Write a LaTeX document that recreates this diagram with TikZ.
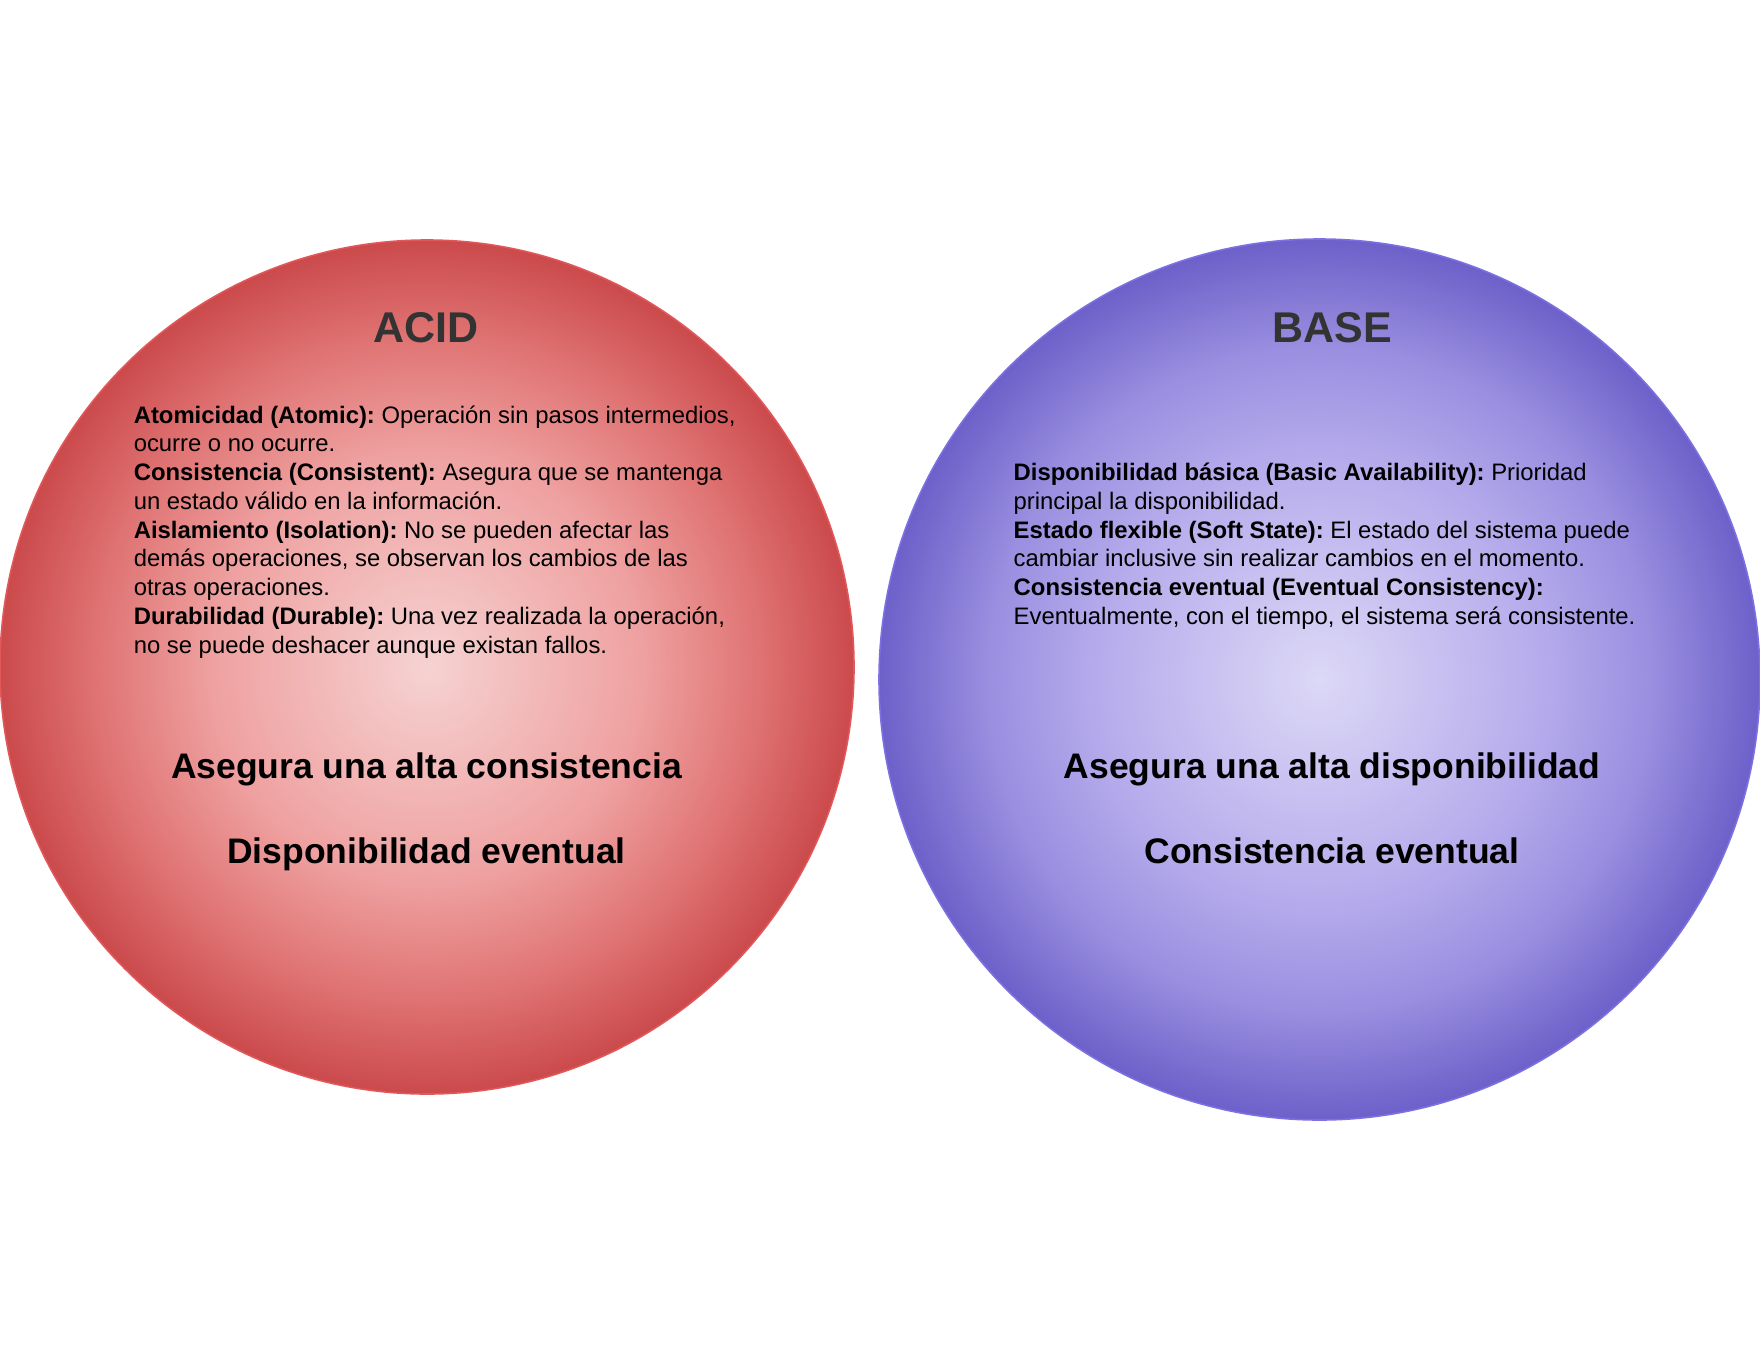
\documentclass[tikz,border=0pt]{standalone}
\usepackage{fontspec}
\setmainfont{Liberation Sans}
\frenchspacing
\definecolor{acidin}{HTML}{F6D2D2}
\definecolor{acidmid}{HTML}{EFA1A1}
\definecolor{acidrim}{HTML}{E07474}
\definecolor{acidout}{HTML}{CB4A4C}
\definecolor{acidline}{HTML}{E2575A}
\definecolor{basein}{HTML}{DCD8F6}
\definecolor{basemid}{HTML}{B6ACEC}
\definecolor{baserim}{HTML}{9A8FE0}
\definecolor{baseout}{HTML}{6D60C9}
\definecolor{baseline}{HTML}{7D70E2}
\definecolor{titlegray}{HTML}{333333}
% radial fills: light centre, brighter middle ring, dark rim
\pgfdeclareradialshading{acidshade}{\pgfpoint{0bp}{0bp}}{%
  color(0bp)=(acidin); color(12.5bp)=(acidmid); color(19.25bp)=(acidrim);
  color(25bp)=(acidout); color(50bp)=(acidout)}
\pgfdeclareradialshading{baseshade}{\pgfpoint{0bp}{0bp}}{%
  color(0bp)=(basein); color(12.5bp)=(basemid); color(18.75bp)=(baserim);
  color(25bp)=(baseout); color(50bp)=(baseout)}
\begin{document}
\begin{tikzpicture}[x=1pt,y=-1pt,
  ball/.style={circle, inner sep=0pt, line width=1.6pt},
  acidball/.style={ball, shading=acidshade, draw=acidline},
  baseball/.style={ball, shading=baseshade, draw=baseline},
  heading/.style={inner sep=0pt, anchor=base, text=titlegray,
    font=\fontsize{43}{50}\selectfont\bfseries},
  % multi-line blocks are placed by the baseline of their last line
  points/.style={inner sep=0pt, anchor=base west, align=left,
    font=\fontsize{23.85}{28.75}\selectfont},
  claim/.style={inner sep=0pt, anchor=base,
    font=\fontsize{35.5}{42}\selectfont\bfseries}]
\useasboundingbox (0,0) rectangle (1760,1360);

% the two property spheres
\node[acidball, minimum size=854pt] (acid) at (427,667) {};
\node[baseball, minimum size=881pt] (base) at (1319.5,679.5) {};

% titles
\node[heading] (acidtitle) at (426,342.5) {ACID};
\node[heading] (basetitle) at (1332,342.5) {BASE};

% ACID properties
\node[points] (acidlist) at (133.6,653) {%
\textbf{Atomicidad (Atomic):} Operación sin pasos intermedios,\\
ocurre o no ocurre.\\
\textbf{Consistencia (Consistent):} Asegura que se mantenga\\
un estado válido en la información.\\
\textbf{Aislamiento (Isolation):} No se pueden afectar las\\
demás operaciones, se observan los cambios de las\\
otras operaciones.\\
\textbf{Durabilidad (Durable):} Una vez realizada la operación,\\
no se puede deshacer aunque existan fallos.};

% BASE properties
\node[points] (baselist) at (1013.5,624.25) {%
\textbf{Disponibilidad básica (Basic Availability):} Prioridad\\
principal la disponibilidad.\\
\textbf{Estado flexible (Soft State):} El estado del sistema puede\\
cambiar inclusive sin realizar cambios en el momento.\\
\textbf{Consistencia eventual (Eventual Consistency):}\\
Eventualmente, con el tiempo, el sistema será consistente.};

% summaries
\node[claim] (acidhigh) at (426.5,778) {Asegura una alta consistencia};
\node[claim] (acidlow) at (426.5,863.5) {Disponibilidad eventual};
\node[claim] (basehigh) at (1332,778) {Asegura una alta disponibilidad};
\node[claim] (baselow) at (1332,863.5) {Consistencia eventual};
\end{tikzpicture}
\end{document}
